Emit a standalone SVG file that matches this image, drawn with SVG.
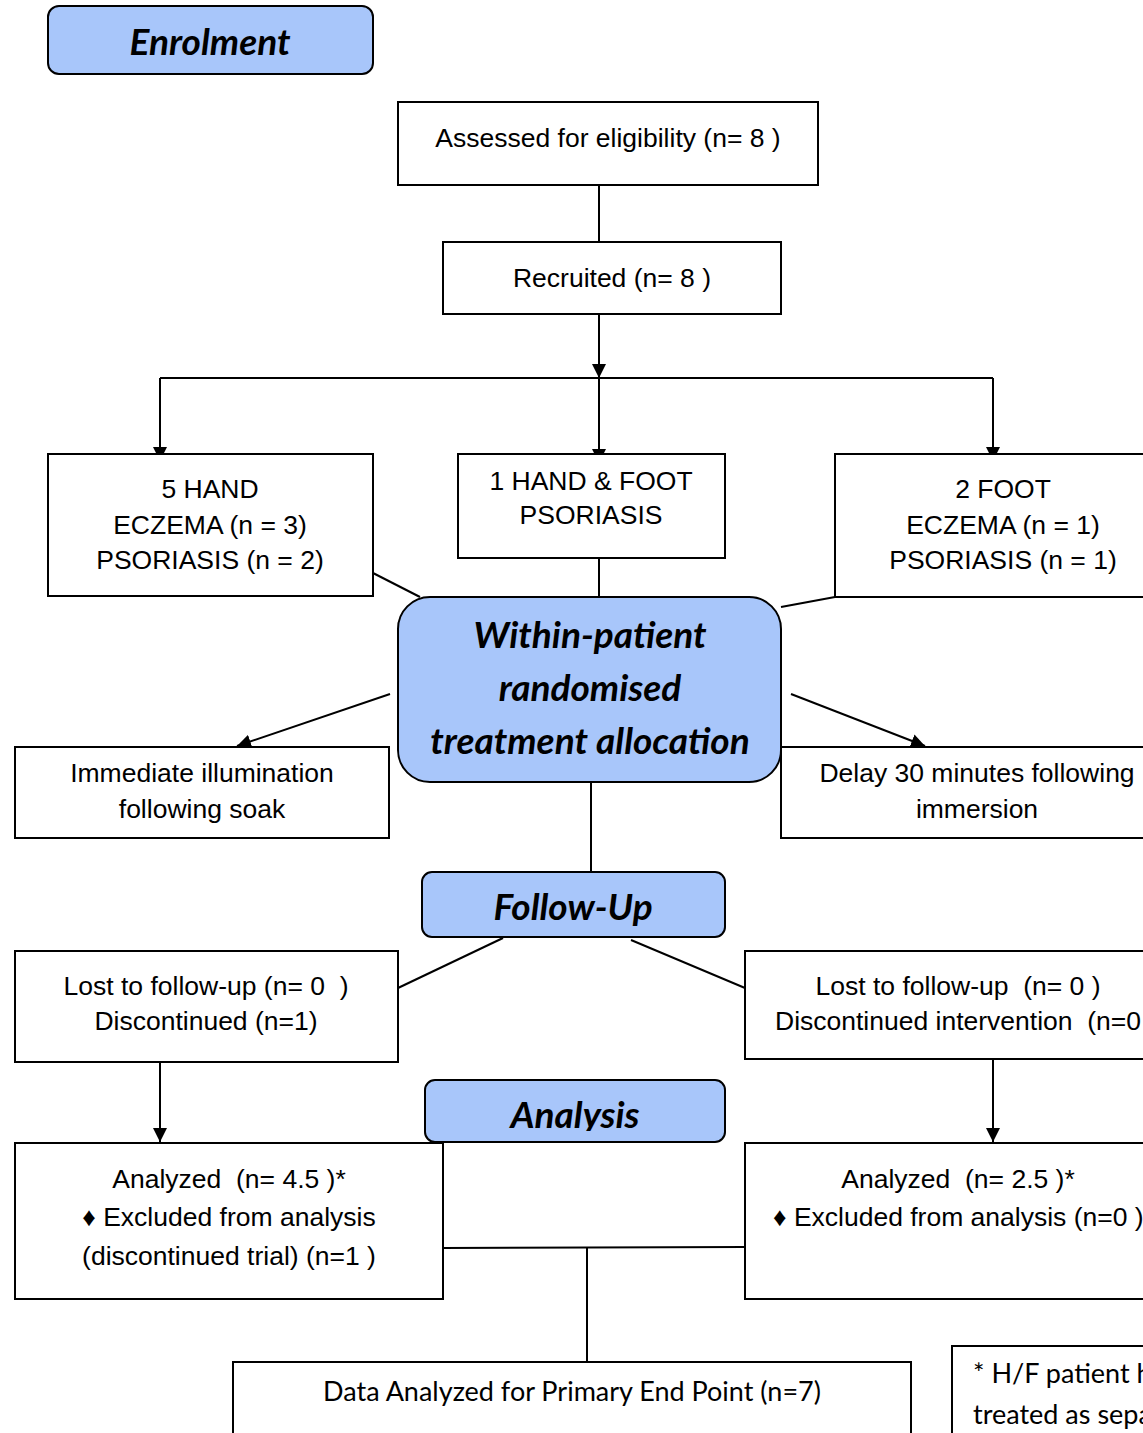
<svg xmlns="http://www.w3.org/2000/svg" width="1143" height="1433" viewBox="0 0 1143 1433">
<style>
.box{fill:#fff;stroke:#000;stroke-width:2}
.stage{fill:#a8c6fa;stroke:#000;stroke-width:2}
.t{font-family:"Liberation Sans",Arial,sans-serif;font-size:26.5px;fill:#000;text-anchor:middle}
.tl{font-family:"Liberation Sans",Arial,sans-serif;font-size:26.5px;fill:#000}
.h{font-family:Lato,"Open Sans",sans-serif;font-weight:bold;font-style:italic;fill:#000;text-anchor:middle}
.c{font-family:Lato,"Open Sans",sans-serif;font-size:27px;fill:#000}
.ln{stroke:#000;stroke-width:2;fill:none}
</style>
<defs>
<marker id="arr" markerWidth="14" markerHeight="14" refX="14" refY="7" orient="auto" markerUnits="userSpaceOnUse">
<path d="M0,0 L14,7 L0,14 z" fill="#000"/>
</marker>
<clipPath id="clipA"><rect x="425" y="1080" width="300" height="51"/></clipPath>
</defs>
<rect width="1143" height="1433" fill="#fff"/>

<g id="connectors">
<path class="ln" d="M599,185 V242"/>
<path class="ln" d="M599,314 V378" marker-end="url(#arr)"/>
<path class="ln" d="M160,378 H993"/>
<path class="ln" d="M160,378 V461" marker-end="url(#arr)"/>
<path class="ln" d="M599,378 V463" marker-end="url(#arr)"/>
<path class="ln" d="M993,378 V461" marker-end="url(#arr)"/>
<path class="ln" d="M373,573 L420,597"/>
<path class="ln" d="M599,558 V597"/>
<path class="ln" d="M835,597 L781,607"/>
<path class="ln" d="M390,694 L237,746" marker-end="url(#arr)"/>
<path class="ln" d="M791,694 L925,746" marker-end="url(#arr)"/>
<path class="ln" d="M591,782 V872"/>
<path class="ln" d="M503,938 L398,988"/>
<path class="ln" d="M631,940 L745,988"/>
<path class="ln" d="M160,1062 V1142" marker-end="url(#arr)"/>
<path class="ln" d="M993,1059 V1142" marker-end="url(#arr)"/>
<path class="ln" d="M443,1248 L745,1247"/>
<path class="ln" d="M587,1248 V1362"/>
</g>

<g id="enrolment">
<rect class="stage" x="48" y="6" width="325" height="68" rx="11"/>
<text class="h" x="210" y="55" font-size="37">Enrolment</text>
</g>

<g id="assessed">
<rect class="box" x="398" y="102" width="420" height="83"/>
<text class="t" x="608" y="147">Assessed for eligibility (n= 8 )</text>
</g>

<g id="recruited">
<rect class="box" x="443" y="242" width="338" height="72"/>
<text class="t" x="612" y="287">Recruited (n= 8 )</text>
</g>

<g id="hand">
<rect class="box" x="48" y="454" width="325" height="142"/>
<text class="t" x="210" y="498">5 HAND</text>
<text class="t" x="210" y="534">ECZEMA (n = 3)</text>
<text class="t" x="210" y="569">PSORIASIS (n = 2)</text>
</g>

<g id="handfoot">
<rect class="box" x="458" y="454" width="267" height="104"/>
<text class="t" x="591" y="490">1 HAND &amp; FOOT</text>
<text class="t" x="591" y="524">PSORIASIS</text>
</g>

<g id="foot">
<rect class="box" x="835" y="454" width="330" height="143"/>
<text class="t" x="1003" y="498">2 FOOT</text>
<text class="t" x="1003" y="534">ECZEMA (n = 1)</text>
<text class="t" x="1003" y="569">PSORIASIS (n = 1)</text>
</g>

<g id="allocation">
<rect class="stage" x="398" y="597" width="383" height="185" rx="32"/>
<text class="h" x="590" y="648" font-size="37">Within-patient</text>
<text class="h" x="590" y="701" font-size="37">randomised</text>
<text class="h" x="590" y="754" font-size="37">treatment allocation</text>
</g>

<g id="immediate">
<rect class="box" x="15" y="747" width="374" height="91"/>
<text class="t" x="202" y="782">Immediate illumination</text>
<text class="t" x="202" y="818">following soak</text>
</g>

<g id="delay">
<rect class="box" x="781" y="747" width="390" height="91"/>
<text class="t" x="977" y="782">Delay 30 minutes following</text>
<text class="t" x="977" y="818">immersion</text>
</g>

<g id="followup">
<rect class="stage" x="422" y="872" width="303" height="65" rx="10"/>
<text class="h" x="573" y="920" font-size="37">Follow-Up</text>
</g>

<g id="lost-left">
<rect class="box" x="15" y="951" width="383" height="111"/>
<text class="t" x="206" y="995" xml:space="preserve">Lost to follow-up (n= 0  )</text>
<text class="t" x="206" y="1030">Discontinued (n=1)</text>
</g>

<g id="lost-right">
<rect class="box" x="745" y="951" width="420" height="108"/>
<text class="t" x="958" y="995" xml:space="preserve">Lost to follow-up  (n= 0 )</text>
<text class="tl" x="775" y="1030" xml:space="preserve">Discontinued intervention  (n=0</text>
</g>

<g id="analysis">
<rect class="stage" x="425" y="1080" width="300" height="62" rx="10"/>
<text class="h" x="575" y="1128" font-size="37" clip-path="url(#clipA)">Analysis</text>
</g>

<g id="analyzed-left">
<rect class="box" x="15" y="1143" width="428" height="156"/>
<text class="t" x="229" y="1188" xml:space="preserve">Analyzed  (n= 4.5 )*</text>
<text class="t" x="229" y="1226">♦ Excluded from analysis</text>
<text class="t" x="229" y="1265">(discontinued trial) (n=1 )</text>
</g>

<g id="analyzed-right">
<rect class="box" x="745" y="1143" width="420" height="156"/>
<text class="t" x="958" y="1188" xml:space="preserve">Analyzed  (n= 2.5 )*</text>
<text class="tl" x="773" y="1226">♦ Excluded from analysis (n=0 )</text>
</g>

<g id="data">
<rect class="box" x="233" y="1362" width="678" height="90"/>
<text class="c" x="572" y="1401" text-anchor="middle">Data Analyzed for Primary End Point (n=7)</text>
</g>

<g id="footnote">
<rect class="box" x="952" y="1346" width="220" height="100"/>
<text class="c" x="973" y="1383">* H/F patient h</text>
<text class="c" x="973" y="1424">treated as sepa</text>
</g>
</svg>
